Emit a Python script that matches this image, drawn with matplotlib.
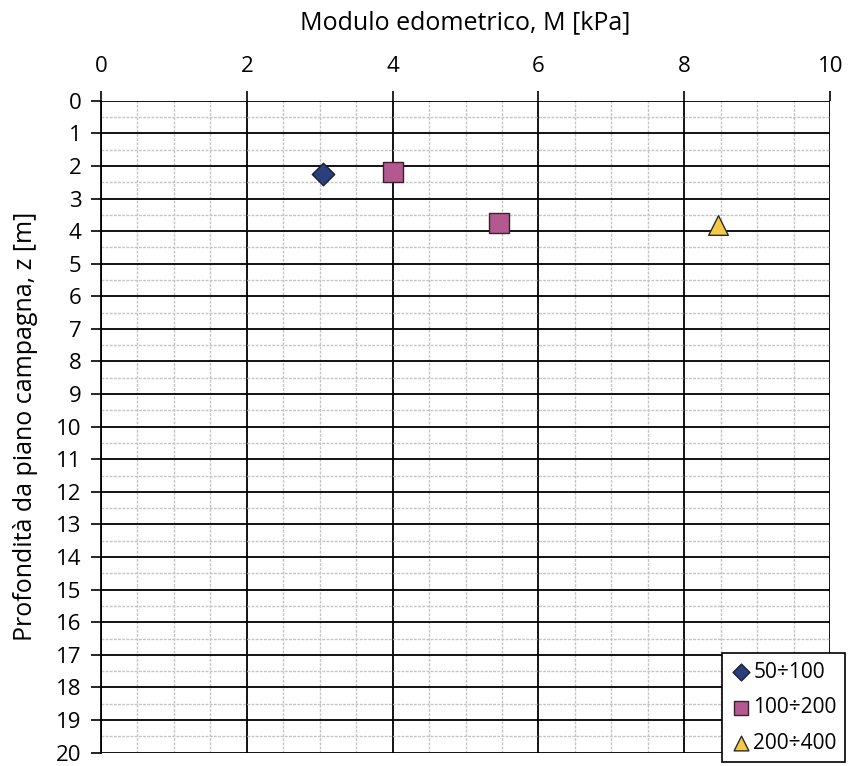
import matplotlib.pyplot as plt
import numpy as np

plt.rcParams['font.family'] = ['Open Sans', 'DejaVu Sans']

# Modulo edometrico per intervallo di tensione
m_50_100 = [3.05]
z_50_100 = [2.25]
m_100_200 = [4.0, 5.46]
z_100_200 = [2.2, 3.75]
m_200_400 = [8.46]
z_200_400 = [3.8]

fig = plt.figure(figsize=(8.48, 7.66), dpi=100)
ax = fig.add_axes([0.119, 0.0175, 0.860, 0.851])

ax.set_xlim(0, 10)
ax.set_ylim(20, 0)
ax.xaxis.tick_top()
ax.xaxis.set_label_position('top')
ax.set_xticks(np.arange(0, 11, 2))
ax.set_yticks(np.arange(0, 21, 1))
ax.set_xticks(np.arange(0, 10.01, 0.5), minor=True)
ax.set_yticks(np.arange(0, 20.01, 0.5), minor=True)
ax.tick_params(which='major', labelsize=16, length=7, width=1.2)
ax.tick_params(axis='x', which='major', pad=10)
ax.tick_params(axis='y', which='major', pad=7)
ax.tick_params(which='minor', length=0)

ax.grid(which='minor', color='#c4c4c4', linestyle=(0, (2, 1)), linewidth=1.0)
ax.grid(which='major', color='black', linewidth=1.3)
ax.set_axisbelow(True)
for s in ax.spines.values():
    s.set_visible(False)
ax.spines['left'].set_visible(True)
ax.spines['left'].set_linewidth(1.3)

ax.set_xlabel('Modulo edometrico, M [kPa]', fontsize=18, labelpad=19)
ax.set_ylabel('Profondità da piano campagna, z [m]', fontsize=18, labelpad=13)

ax.scatter(m_50_100, z_50_100, marker='D', s=130, color='#2b3f7c',
           edgecolors='#1a2030', linewidths=1, label='50÷100', zorder=3)
ax.scatter(m_100_200, z_100_200, marker='s', s=190, color='#b3598f',
           edgecolors='#3a2030', linewidths=1, label='100÷200', zorder=3)
ax.scatter(m_200_400, z_200_400, marker='^', s=200, color='#f6c843',
           edgecolors='#2a2a2a', linewidths=1, label='200÷400', zorder=3)

leg = ax.legend(loc='lower right', fontsize=15, fancybox=False, framealpha=1,
                edgecolor='black', handletextpad=0.1, handlelength=1.0,
                borderpad=0.4, labelspacing=0.7, markerscale=0.75,
                borderaxespad=0,
                bbox_to_anchor=(845 / 848, 1 - 762 / 766),
                bbox_transform=fig.transFigure)
leg.get_frame().set_linewidth(1.2)

fig.savefig('out.png', dpi=100)
